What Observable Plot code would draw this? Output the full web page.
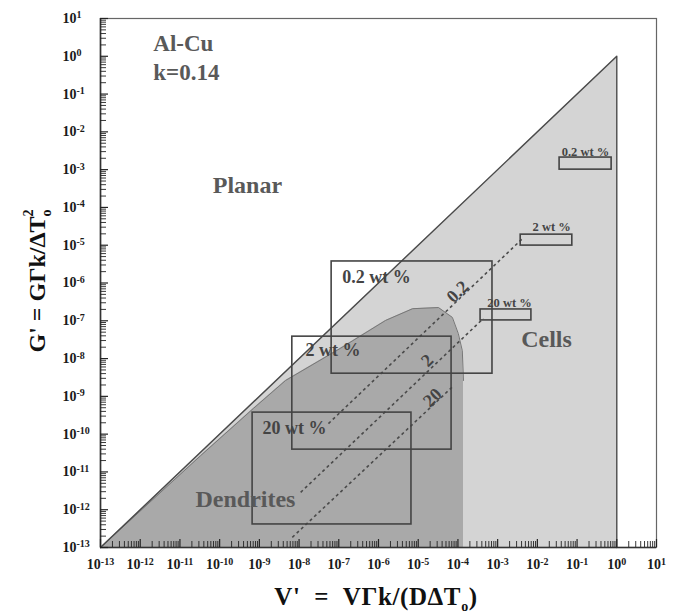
<!DOCTYPE html>
<html><head><meta charset="utf-8">
<script src="https://cdn.jsdelivr.net/npm/d3@7"></script>
<script src="https://cdn.jsdelivr.net/npm/@observablehq/plot@0.6"></script>
<style>body{margin:0;background:#fff;} svg{display:block}</style>
</head><body><div id="chart"></div>
<script>
// ---- data (log10 values) ----
const cellsX = [-13, 0];
const cellsY = [-13, 0];
const dendriteX = [-13, -10.48, -9.15, -8.34, -6.96, -5.82, -5.14, -4.49, -4.14, -3.99, -3.89, -3.86];
const dendriteY = [-13, -10.57, -9.32, -8.58, -7.73, -6.99, -6.68, -6.65, -6.91, -7.34, -7.79, -8.58];

const boxLabels = ["0.2 wt %", "2 wt %", "20 wt %"];
const boxX1 = [-7.18, -8.17, -9.17];
const boxX2 = [-3.13, -4.16, -5.17];
const boxY1 = [-8.40, -10.41, -12.39];
const boxY2 = [-5.43, -7.42, -9.43];
const boxLabelX = [-6.91, -7.84, -8.92];
const boxLabelY = [-5.85, -7.79, -9.85];

const smallX1 = [-1.44, -2.42, -3.43];
const smallX2 = [-0.13, -1.12, -2.15];
const smallY1 = [-3.00, -5.01, -6.99];
const smallY2 = [-2.68, -4.72, -6.70];
const smallLabelX = [-0.79, -1.64, -2.70];
const smallLabelY = [-2.52, -4.53, -6.54];

const lineLabels = ["0.2", "2", "20"];
const lineX0 = [-7.26, -7.96, -8.17];
const lineY0 = [-9.72, -11.54, -12.73];
const lineX1 = [-2.37, -3.36, -4.13];
const lineY1 = [-4.82, -6.94, -8.74];
const lineLabelX = [-4.01, -4.77, -4.64];
const lineLabelY = [-6.23, -8.05, -9.03];

const regionLabels = ["Planar", "Cells", "Dendrites"];
const regionLabelX = [-9.30, -1.77, -9.35];
const regionLabelY = [-3.42, -7.50, -11.73];

const alloyLabels = ["Al-Cu", "k=0.14"];
const alloyLabelX = [-11.67, -11.67];
const alloyLabelY = [0.34, -0.43];

const tickExponents = d3.range(-13, 2);

// ---- build tables ----
const p = e => Math.pow(10, e);
const cells = cellsX.map((x, i) => ({x: p(x), y0: 1e-13, y: p(cellsY[i])}));
const triangle = [[p(-13), p(-13)], [p(cellsX[1]), p(cellsY[1])], [p(cellsX[1]), p(-13)]];
const dendrite = dendriteX.map((x, i) => ({x: p(x), y0: 1e-13, y: p(dendriteY[i])}));
const boxes = boxLabels.map((t, i) => ({t, x1: p(boxX1[i]), x2: p(boxX2[i]), y1: p(boxY1[i]), y2: p(boxY2[i]), lx: p(boxLabelX[i]), ly: p(boxLabelY[i])}));
const smalls = boxLabels.map((t, i) => ({t, x1: p(smallX1[i]), x2: p(smallX2[i]), y1: p(smallY1[i]), y2: p(smallY2[i]), lx: p(smallLabelX[i]), ly: p(smallLabelY[i])}));
const dlines = lineLabels.map((t, i) => ({t, x1: p(lineX0[i]), y1: p(lineY0[i]), x2: p(lineX1[i]), y2: p(lineY1[i]), lx: p(lineLabelX[i]), ly: p(lineLabelY[i])}));
const regions = regionLabels.map((t, i) => ({t, x: p(regionLabelX[i]), y: p(regionLabelY[i])}));
const alloy = alloyLabels.map((t, i) => ({t, x: p(alloyLabelX[i]), y: p(alloyLabelY[i])}));

const majors = tickExponents.map(p);
const minors = [];
for (const e of tickExponents.slice(0, -1)) for (let m = 2; m <= 9; m++) minors.push(m * p(e));

const fmt = v => "10^" + Math.round(Math.log10(v));

const W = 680, H = 613, ML = 100, MR = 24, MT = 18, MB = 66;
const PW = W - ML - MR, PH = H - MT - MB;
const serif = '"Liberation Serif", "Times New Roman", "DejaVu Serif", serif';

const chart = Plot.plot({
  width: W, height: H, marginLeft: ML, marginRight: MR, marginTop: MT, marginBottom: MB,
  style: {fontFamily: serif, fontWeight: "bold", background: "#fff", color: "#1a1a1a"},
  x: {type: "log", domain: [1e-13, 10]},
  y: {type: "log", domain: [1e-13, 10]},
  marks: [
    Plot.areaY(cells, {x: "x", y1: "y0", y2: "y", fill: "#d4d4d4"}),
    Plot.areaY(dendrite, {x: "x", y1: "y0", y2: "y", fill: "#a9a9a9"}),
    Plot.line(dendrite, {x: "x", y: "y", stroke: "#777", strokeWidth: 1}),
    Plot.line(triangle, {x: d => d[0], y: d => d[1], stroke: "#4a4a4a", strokeWidth: 1.4}),
    Plot.link(dlines, {x1: "x1", y1: "y1", x2: "x2", y2: "y2", stroke: "#4a4a4a", strokeWidth: 1.6, strokeDasharray: "3,3"}),
    Plot.rect(boxes, {x1: "x1", x2: "x2", y1: "y1", y2: "y2", fill: "none", stroke: "#444", strokeWidth: 1.6}),
    Plot.rect(smalls, {x1: "x1", x2: "x2", y1: "y1", y2: "y2", fill: "none", stroke: "#444", strokeWidth: 1.6}),
    Plot.text(boxes, {x: "lx", y: "ly", text: "t", textAnchor: "start", fontSize: 18, fill: "#444"}),
    Plot.text(smalls, {x: "lx", y: "ly", text: "t", fontSize: 12.5, fill: "#444"}),
    Plot.text(dlines, {x: "lx", y: "ly", text: "t", fontSize: 18, rotate: -44, fill: "#444"}),
    Plot.text(regions, {x: "x", y: "y", text: "t", fontSize: 24, fill: "#595959"}),
    Plot.text(alloy, {x: "x", y: "y", text: "t", textAnchor: "start", fontSize: 23, fill: "#595959"}),
    Plot.frame({stroke: "#666", strokeWidth: 1.2}),
    Plot.ruleX([1e-13], {stroke: "#333", strokeWidth: 1.6}),
    Plot.ruleY([1e-13], {stroke: "#333", strokeWidth: 1.6}),
    Plot.tickX(majors, {x: d => d, insetTop: PH - 8, stroke: "#222", strokeWidth: 1.2}),
    Plot.tickX(minors, {x: d => d, insetTop: PH - 6, stroke: "#222", strokeWidth: 0.9}),
    Plot.tickY(majors, {y: d => d, insetRight: PW - 8, stroke: "#222", strokeWidth: 1.2}),
    Plot.tickY(minors, {y: d => d, insetRight: PW - 6, stroke: "#222", strokeWidth: 0.9}),
    Plot.axisX({ticks: majors, tickFormat: fmt, tickSize: 0, tickPadding: 12, fontSize: 14, fontWeight: "bold", label: null}),
    Plot.axisY({ticks: majors, tickFormat: fmt, tickSize: 0, tickPadding: 38, textAnchor: "start", fontSize: 14, fontWeight: "bold", label: null})
  ]
});
document.getElementById("chart").appendChild(chart);

const svg = d3.select(chart);
// tick labels: 10 with superscript exponent
svg.selectAll('[aria-label="x-axis tick label"] text, [aria-label="y-axis tick label"] text').each(function () {
  const t = d3.select(this);
  const [base, exp] = t.text().split("^");
  t.text(null);
  t.append("tspan").text(base);
  t.append("tspan").attr("dy", "-0.45em").attr("font-size", 10).text(exp);
});

// axis titles with sub/superscripts
const xt = svg.append("text").attr("x", 376).attr("y", 605).attr("text-anchor", "middle")
  .attr("font-size", 25).attr("font-weight", "bold").attr("font-family", serif).attr("fill", "#111")
  .attr("letter-spacing", 0.6);
xt.append("tspan").text("V'\u00a0\u00a0=\u00a0\u00a0VΓk/(DΔT");
xt.append("tspan").attr("dy", 6).attr("font-size", 14).text("o");
xt.append("tspan").attr("dy", -6).text(")");

const yt = svg.append("text").attr("transform", "translate(45,281) rotate(-90)").attr("text-anchor", "middle")
  .attr("font-size", 24).attr("font-weight", "bold").attr("font-family", serif).attr("fill", "#111");
yt.append("tspan").text("G'\u00a0=\u00a0GΓk/ΔT");
yt.append("tspan").attr("dy", 6).attr("font-size", 14).text("o");
yt.append("tspan").attr("dx", -7).attr("dy", -18).attr("font-size", 14).text("2");
</script>
</body></html>
